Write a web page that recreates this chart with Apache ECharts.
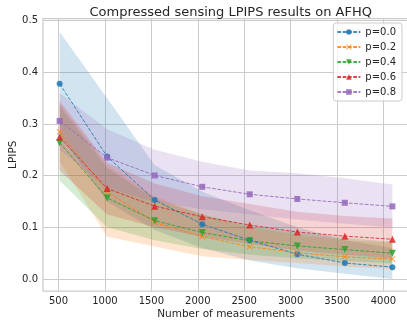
<!DOCTYPE html>
<html>
<head>
<meta charset="utf-8">
<script src="https://cdn.jsdelivr.net/npm/echarts/dist/echarts.min.js"></script>
<style>
  html, body { margin: 0; padding: 0; background: #ffffff; }
  #chart { width: 407px; height: 323px; }
</style>
</head>
<body>
<div id="chart"></div>
<script>
// Number of measurements (x positions shared by every series)
const measurements = [512, 1024, 1536, 2048, 2560, 3072, 3584, 4096];

// Mean LPIPS per corruption level
const meanP00 = [0.378, 0.237, 0.153, 0.106, 0.075, 0.048, 0.031, 0.023];
const meanP02 = [0.285, 0.169, 0.110, 0.082, 0.0625, 0.051, 0.043, 0.0387];
const meanP04 = [0.264, 0.157, 0.113, 0.090, 0.074, 0.064, 0.057, 0.050];
const meanP06 = [0.275, 0.175, 0.141, 0.1205, 0.1045, 0.091, 0.083, 0.077];
const meanP08 = [0.306, 0.235, 0.2005, 0.1785, 0.164, 0.155, 0.1476, 0.1406];

// Lower / upper edges of the shaded spread
const lowP00 = [0.280, 0.150, 0.095, 0.060, 0.036, 0.021, 0.010, 0.000];
const highP00 = [0.478, 0.350, 0.220, 0.169, 0.133, 0.100, 0.075, 0.060];
const lowP02 = [0.228, 0.082, 0.063, 0.044, 0.037, 0.031, 0.024, 0.020];
const highP02 = [0.340, 0.220, 0.160, 0.125, 0.100, 0.085, 0.075, 0.070];
const lowP04 = [0.190, 0.100, 0.075, 0.058, 0.047, 0.040, 0.035, 0.030];
const highP04 = [0.335, 0.215, 0.155, 0.125, 0.103, 0.090, 0.080, 0.072];
const lowP06 = [0.210, 0.125, 0.100, 0.082, 0.068, 0.055, 0.047, 0.040];
const highP06 = [0.345, 0.225, 0.185, 0.160, 0.145, 0.130, 0.122, 0.117];
const lowP08 = [0.250, 0.175, 0.150, 0.135, 0.125, 0.115, 0.107, 0.100];
const highP08 = [0.360, 0.290, 0.250, 0.227, 0.210, 0.2045, 0.195, 0.183];

const seriesNames = ['p=0.0', 'p=0.2', 'p=0.4', 'p=0.6', 'p=0.8'];
const xTicks = [500, 1000, 1500, 2000, 2500, 3000, 3500, 4000];
const yTicks = [0.0, 0.1, 0.2, 0.3, 0.4, 0.5];

const means = [meanP00, meanP02, meanP04, meanP06, meanP08];
const lows = [lowP00, lowP02, lowP04, lowP06, lowP08];
const highs = [highP00, highP02, highP04, highP06, highP08];

const palette = ['#1f77b4', '#ff7f0e', '#2ca02c', '#d62728', '#9467bd'];
const crossPath = 'path://M1,0L5,4L9,0L10,1L6,5L10,9L9,10L5,6L1,10L0,9L4,5L0,1Z';
const triDownPath = 'path://M0,0L10,0L5,9Z';
const markers = ['circle', crossPath, triDownPath, 'triangle', 'rect'];
const markerSizes = [6, 6, 7, 7, 6];

function hexToRgba(hex, a) {
  const n = parseInt(hex.slice(1), 16);
  return 'rgba(' + ((n >> 16) & 255) + ',' + ((n >> 8) & 255) + ',' + (n & 255) + ',' + a + ')';
}

// Band polygon: upper edge left-to-right, then lower edge right-to-left
function renderBand(color) {
  return function (params, api) {
    if (params.dataIndexInside !== 0) return null;
    const n = params.dataInsideLength;
    const pts = [];
    for (let k = 0; k < n; k++) {
      pts.push(api.coord([api.value(0, k), api.value(2, k)]));
    }
    for (let k = n - 1; k >= 0; k--) {
      pts.push(api.coord([api.value(0, k), api.value(1, k)]));
    }
    return {
      type: 'polygon',
      shape: { points: pts },
      style: { fill: hexToRgba(color, 0.2), stroke: null }
    };
  };
}

const FONT = 'DejaVu Sans';
const series = [];

means.forEach((m, i) => {
  series.push({
    type: 'custom',
    renderItem: renderBand(palette[i]),
    data: measurements.map((x, k) => [x, lows[i][k], highs[i][k]]),
    encode: { x: 0, y: [1, 2] },
    silent: true,
    z: 1
  });
});

// Mean curves
means.forEach((m, i) => {
  series.push({
    name: seriesNames[i],
    type: 'line',
    data: measurements.map((x, k) => [x, m[k]]),
    symbol: markers[i],
    symbolSize: markerSizes[i],
    showAllSymbol: true,
    lineStyle: { color: palette[i], width: 1, type: [3.7, 1.6], opacity: 0.85 },
    itemStyle: { color: palette[i], opacity: 0.85 },
    z: 3
  });
});

const chart = echarts.init(document.getElementById('chart'), null, { renderer: 'canvas' });
chart.setOption({
  animation: false,
  backgroundColor: '#ffffff',
  title: {
    text: 'Compressed sensing LPIPS results on AFHQ',
    left: 225.7,
    top: 1,
    textAlign: 'center',
    textStyle: { fontFamily: FONT, fontSize: 13, fontWeight: 'normal', color: '#262626' }
  },
  grid: {
    left: 43, right: -2, top: 18.5, bottom: 32,
    containLabel: false,
    outerBoundsMode: 'none',
    show: true,
    borderColor: '#cccccc',
    borderWidth: 1.25,
    backgroundColor: 'transparent'
  },
  legend: {
    data: seriesNames,
    orient: 'vertical',
    right: 5,
    top: 23,
    itemWidth: 23,
    itemHeight: 7,
    itemGap: 5,
    padding: [4, 6, 4, 3],
    backgroundColor: 'rgba(255,255,255,0.8)',
    borderColor: '#cccccc',
    borderWidth: 1,
    borderRadius: 3,
    textStyle: { fontFamily: FONT, fontSize: 10, color: '#262626' }
  },
  xAxis: {
    type: 'value',
    min: 332.8,
    max: 4275.2,
    name: 'Number of measurements',
    nameLocation: 'middle',
    nameGap: 18,
    nameMoveOverlap: false,
    nameTextStyle: { fontFamily: FONT, fontSize: 10.5, color: '#262626' },
    axisLine: { show: false },
    axisTick: { show: false, customValues: xTicks },
    axisLabel: {
      customValues: xTicks,
      formatter: v => String(v),
      fontFamily: FONT, fontSize: 10, color: '#262626', margin: 5
    },
    splitLine: { show: true, lineStyle: { color: '#cccccc', width: 1 } }
  },
  yAxis: {
    type: 'value',
    min: -0.0232,
    max: 0.5043,
    name: 'LPIPS',
    nameLocation: 'middle',
    nameGap: 30,
    nameMoveOverlap: false,
    nameTextStyle: { fontFamily: FONT, fontSize: 10.5, color: '#262626', verticalAlign: 'middle' },
    axisLine: { show: false },
    axisTick: { show: false, customValues: yTicks },
    axisLabel: {
      customValues: yTicks,
      formatter: v => v.toFixed(1),
      fontFamily: FONT, fontSize: 10, color: '#262626', margin: 5
    },
    splitLine: { show: true, lineStyle: { color: '#cccccc', width: 1 } }
  },
  series: series
});
</script>
</body>
</html>
